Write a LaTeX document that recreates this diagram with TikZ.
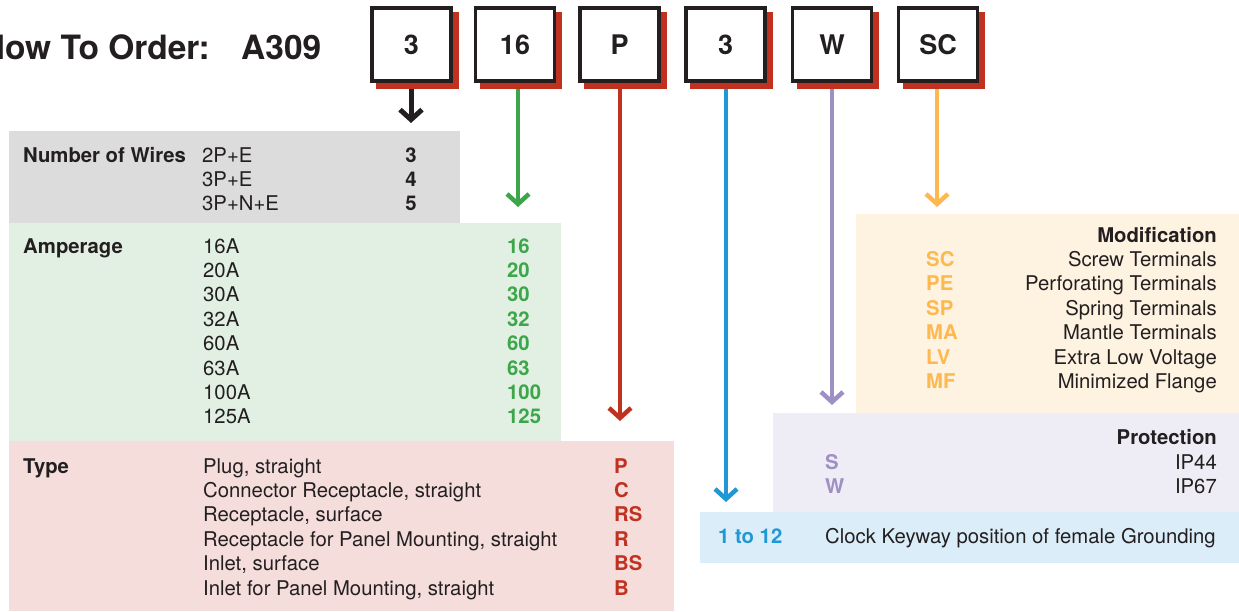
\documentclass[tikz,border=0pt]{standalone}
\usepackage{fontspec}
\setmainfont{TeX Gyre Heros}
\usetikzlibrary{arrows.meta,shadows}
\definecolor{ink}{HTML}{231F20}
\definecolor{shred}{HTML}{C0311F}
\definecolor{cgreen}{HTML}{3DA64A}
\definecolor{cred}{HTML}{C0311F}
\definecolor{cblue}{HTML}{1F98D5}
\definecolor{cpurple}{HTML}{9E8FC4}
\definecolor{corange}{HTML}{FDB94F}
\definecolor{pgray}{HTML}{DCDCDC}
\definecolor{pgreen}{HTML}{E2F0E3}
\definecolor{pred}{HTML}{F4DDDB}
\definecolor{porange}{HTML}{FEF2E1}
\definecolor{ppurple}{HTML}{EEECF5}
\definecolor{pblue}{HTML}{DBEDF8}
\begin{document}
\begin{tikzpicture}[x=1pt,y=-1pt,
  txt/.style={inner sep=0pt, anchor=base west, text=ink, font=\fontsize{20.3}{24}\selectfont},
  txtr/.style={txt, anchor=base east},
  hd/.style={txt, font=\fontsize{20.3}{24}\selectfont\bfseries},
  hdr/.style={hd, anchor=base east},
  code/.style={txt, font=\fontsize{20.3}{24}\selectfont\bfseries},
  title/.style={inner sep=0pt, text=ink, font=\fontsize{33.5}{40}\selectfont\bfseries},
  codebox/.style={draw=ink, line width=3.5pt, fill=white, minimum width=79pt, minimum height=73pt,
    inner sep=0pt, font=\fontsize{27}{30}\selectfont\bfseries, text=ink,
    general shadow={shadow xshift=6pt, shadow yshift=-6pt, fill=shred, draw=shred, line width=3.5pt}},
  arr/.style={line width=4.5pt, -{Straight Barb[length=10pt,width=22pt]}}
]
\useasboundingbox (0,0) rectangle (1239,611);
\clip (0,0) rectangle (1239,611);
% panels
\fill[pgray] (9,131) rectangle (460,223);
\fill[pgreen] (9,223) rectangle (561,441);
\fill[pred] (9,441) rectangle (674,611);
\fill[porange] (856,214) rectangle (1239,413);
\fill[ppurple] (773,413) rectangle (1239,512);
\fill[pblue] (700,512) rectangle (1239,563);
% title
\node[title, anchor=base east] (how) at (210,59) {How To Order:};
\node[title, anchor=base west] (a309) at (241,59) {A309};
% code boxes
\node[codebox] (b1) at (411.5,44.5) {3};
\node[codebox] (b2) at (515,44.5) {16};
\node[codebox] (b3) at (619.5,44.5) {P};
\node[codebox] (b4) at (725.5,44.5) {3};
\node[codebox] (b5) at (832,44.5) {W};
\node[codebox] (b6) at (938,44.5) {SC};
% arrow tips and starts
\coordinate (t1) at (411,123);
\coordinate (t2) at (518,207);
\coordinate (t3) at (620,421);
\coordinate (t4) at (726,502);
\coordinate (t5) at (832,405);
\coordinate (t6) at (937,207);
\foreach \i in {1,...,6} {\coordinate (s\i) at ([yshift=-6pt]b\i.south);}
\draw[arr, ink, line width=5pt] (s1 -| t1) -- (t1);
\draw[arr, cgreen] (s2 -| t2) -- (t2);
\draw[arr, cred] (s3 -| t3) -- (t3);
\draw[arr, cblue] (s4 -| t4) -- (t4);
\draw[arr, cpurple] (s5 -| t5) -- (t5);
\draw[arr, corange] (s6 -| t6) -- (t6);
% number of wires
\node[hd] (nwh) at (23,162) {Number of Wires};
\foreach \t/\c [count=\i] in {2P+E/3, 3P+E/4, 3P+N+E/5} {
  \node[txt] (nw\i) at (202,{162+24.4*(\i-1)}) {\t};
  \node[code, anchor=base] (nwc\i) at (411,{162+24.4*(\i-1)}) {\c};
}
% amperage
\node[hd] (amh) at (23,253) {Amperage};
\foreach \t/\c [count=\i] in {16A/16, 20A/20, 30A/30, 32A/32, 60A/60, 63A/63, 100A/100, 125A/125} {
  \node[txt] (am\i) at (203,{253+24.4*(\i-1)}) {\t};
  \node[code, text=cgreen] (amc\i) at (507,{253+24.4*(\i-1)}) {\c};
}
% type
\node[hd] (tyh) at (23,473) {Type};
\foreach \t/\c [count=\i] in {{Plug, straight}/P, {Connector Receptacle, straight}/C, {Receptacle, surface}/RS,
  {Receptacle for Panel Mounting, straight}/R, {Inlet, surface}/BS, {Inlet for Panel Mounting, straight}/B} {
  \node[txt] (ty\i) at (203,{473+24.4*(\i-1)}) {\t};
  \node[code, text=cred] (tyc\i) at (614,{473+24.4*(\i-1)}) {\c};
}
% modification
\node[hdr] (moh) at (1217,242) {Modification};
\foreach \t/\c [count=\i] in {Screw Terminals/SC, Perforating Terminals/PE, Spring Terminals/SP,
  Mantle Terminals/MA, Extra Low Voltage/LV, Minimized Flange/MF} {
  \node[txtr] (mo\i) at (1217,{266.4+24.4*(\i-1)}) {\t};
  \node[code, text=corange] (moc\i) at (926,{266.4+24.4*(\i-1)}) {\c};
}
% protection
\node[hdr] (prh) at (1217,444) {Protection};
\foreach \t/\c [count=\i] in {IP44/S, IP67/W} {
  \node[txtr] (pr\i) at (1217,{469+24.6*(\i-1)}) {\t};
  \node[code, text=cpurple] (prc\i) at (825,{469+24.6*(\i-1)}) {\c};
}
% clock
\node[code, text=cblue] (clc) at (718,543) {1 to 12};
\node[txt] (cl) at (825,543) {Clock Keyway position of female Grounding};
\end{tikzpicture}
\end{document}
